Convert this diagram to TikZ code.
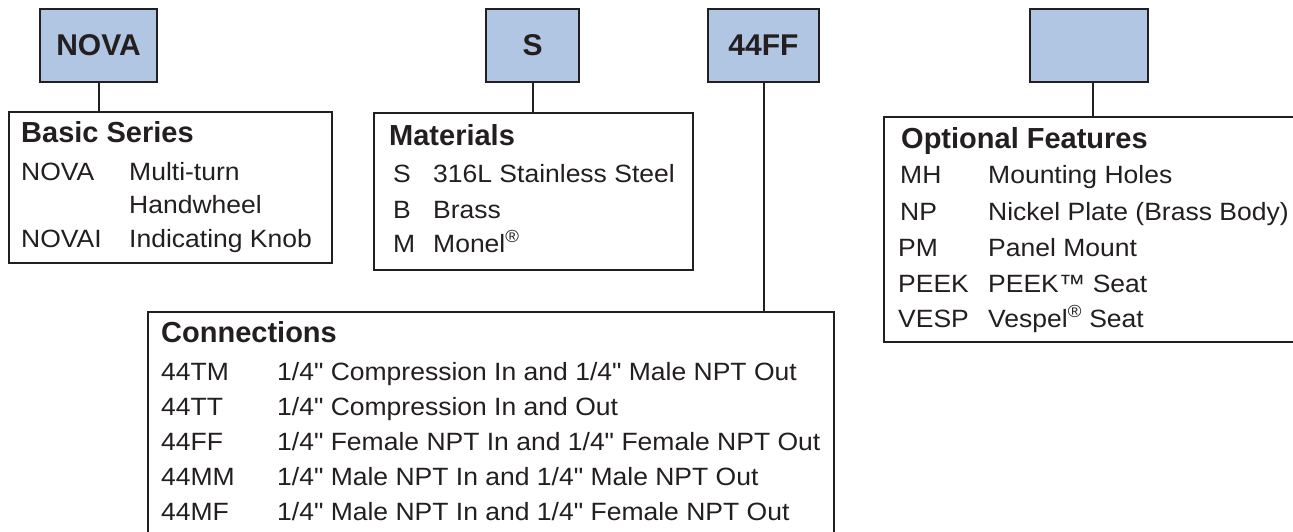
\documentclass[tikz,border=0pt]{standalone}
\usepackage{fontspec}
\setmainfont{Liberation Sans}[Ligatures=TeXOff]
\newfontfamily\bodyfont{Liberation Sans}[Ligatures=TeXOff, FakeStretch=1.06]
\definecolor{ink}{RGB}{35,31,32}
\definecolor{boxblue}{RGB}{176,198,226}
\tikzset{
  codebox/.style={draw=ink, line width=2pt, fill=boxblue, minimum height=73pt, inner sep=0pt,
    font=\fontsize{30}{30}\selectfont\bfseries, text=ink},
  listbox/.style={draw=ink, line width=2pt, fill=white, inner sep=0pt},
  lbl/.style={anchor=base west, inner sep=0pt, font=\bodyfont\fontsize{25}{30}\selectfont, text=ink},
  ttl/.style={anchor=base west, inner sep=0pt, font=\fontsize{29}{30}\selectfont\bfseries, text=ink},
  wire/.style={draw=ink, line width=2pt}
}
\begin{document}
\begin{tikzpicture}[x=1pt,y=-1pt]
\useasboundingbox (0,0) rectangle (1293,531);
\clip (0,0) rectangle (1293,531);

% code boxes
\node[codebox, minimum width=117pt] (nova) at (98.5,45.5) {NOVA};
\node[codebox, minimum width=93pt] (s) at (532.5,45.5) {S};
\node[codebox, minimum width=111pt] (ff) at (763.5,45.5) {44FF};
\node[codebox, minimum width=118pt] (opt) at (1089,45.5) {};

% list boxes
\node[listbox, minimum width=323pt, minimum height=151pt] (basic) at (170.5,187.5) {};
\node[listbox, minimum width=319pt, minimum height=157pt] (mat) at (533.5,191.5) {};
\node[listbox, minimum width=686pt, minimum height=240pt] (conn) at (491,432) {};
\node[listbox, minimum width=426pt, minimum height=225pt] (feat) at (1097,229.5) {};

% connectors
\draw[wire] (nova.south) -- (nova.south |- basic.north);
\draw[wire] (s.south) -- (s.south |- mat.north);
\draw[wire] (ff.south) -- (ff.south |- conn.north);
\coordinate (optc) at ([xshift=4pt]opt.south);
\draw[wire] (optc) -- (optc |- feat.north);

% Basic Series
\node[ttl] (bt) at (21,142.7) {Basic Series};
\node[lbl] (b1c) at (21,180) {NOVA};
\node[lbl] (b1d) at (129,180) {Multi-turn};
\node[lbl] (b1e) at (129,213) {Handwheel};
\node[lbl] (b2c) at (21,247) {NOVAI};
\node[lbl] (b2d) at (129,247) {Indicating Knob};

% Materials
\node[ttl] (mt) at (389,145) {Materials};
\node[lbl] (m1c) at (393,182) {S};
\node[lbl] (m1d) at (433,182) {316L Stainless Steel};
\node[lbl] (m2c) at (393,218) {B};
\node[lbl] (m2d) at (433,218) {Brass};
\node[lbl] (m3c) at (393,252) {M};
\node[lbl] (m3d) at (433,252) {Monel\textsuperscript{®}};

% Optional Features
\node[ttl] (ft) at (901,148) {Optional Features};
\node[lbl] (f1c) at (900,183) {MH};
\node[lbl] (f1d) at (988,183) {Mounting Holes};
\node[lbl] (f2c) at (900,220) {NP};
\node[lbl] (f2d) at (988,220) {Nickel Plate (Brass Body)};
\node[lbl] (f3c) at (898,256) {PM};
\node[lbl] (f3d) at (988,256) {Panel Mount};
\node[lbl] (f4c) at (898,292) {PEEK};
\node[lbl] (f4d) at (988,292) {PEEK™ Seat};
\node[lbl] (f5c) at (898,327) {VESP};
\node[lbl] (f5d) at (988,327) {Vespel\textsuperscript{®} Seat};

% Connections
\node[ttl] (ct) at (161,342) {Connections};
\node[lbl] (c1c) at (161,380) {44TM};
\node[lbl] (c1d) at (277,380) {1/4" Compression In and 1/4" Male NPT Out};
\node[lbl] (c2c) at (161,415) {44TT};
\node[lbl] (c2d) at (277,415) {1/4" Compression In and Out};
\node[lbl] (c3c) at (161,450) {44FF};
\node[lbl] (c3d) at (277,450) {1/4" Female NPT In and 1/4" Female NPT Out};
\node[lbl] (c4c) at (161,485) {44MM};
\node[lbl] (c4d) at (277,485) {1/4" Male NPT In and 1/4" Male NPT Out};
\node[lbl] (c5c) at (161,520) {44MF};
\node[lbl] (c5d) at (277,520) {1/4" Male NPT In and 1/4" Female NPT Out};
\end{tikzpicture}
\end{document}
